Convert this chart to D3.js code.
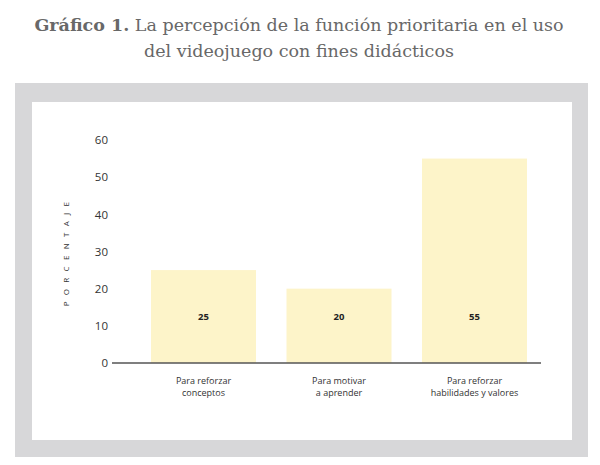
<!DOCTYPE html>
<html>
<head>
<meta charset="utf-8">
<script src="https://d3js.org/d3.v7.min.js"></script>
<style>
  body { margin: 0; background: #fff; }
</style>
</head>
<body>
<script>
var categorias = [["Para reforzar", "conceptos"], ["Para motivar", "a aprender"], ["Para reforzar", "habilidades y valores"]];
var valores = [25, 20, 55];
var ticksY = [0, 10, 20, 30, 40, 50, 60];

var w = 600, h = 465;
var svg = d3.select("body").append("svg").attr("width", w).attr("height", h);

// marco gris
svg.append("rect").attr("x", 15).attr("y", 83).attr("width", 573).attr("height", 374).attr("fill", "#d7d7d9");
svg.append("rect").attr("x", 32).attr("y", 102).attr("width", 540).attr("height", 338).attr("fill", "#fff");

// titulo
var titulo = svg.append("text").attr("text-anchor", "middle").attr("fill", "#686868")
  .style("font-family", "'DejaVu Serif', Georgia, serif").style("font-size", "17.5px");
var l1 = titulo.append("tspan").attr("x", 299).attr("y", 31);
l1.append("tspan").attr("font-weight", "bold").text("Gráfico 1.");
l1.append("tspan").text(" La percepción de la función prioritaria en el uso");
titulo.append("tspan").attr("x", 299).attr("y", 57).text("del videojuego con fines didácticos");

var x = d3.scaleBand().domain(d3.range(valores.length)).range([151, 527]).paddingInner(0.225).paddingOuter(0);
var y = d3.scaleLinear().domain([0, 60]).range([363, 140]);

var g = svg.append("g").style("font-family", "'Open Sans', 'Noto Sans', sans-serif");

g.selectAll("rect.bar").data(valores).enter().append("rect").attr("class", "bar")
  .attr("x", function(d, i){ return x(i); })
  .attr("y", function(d){ return y(d); })
  .attr("width", x.bandwidth())
  .attr("height", function(d){ return y(0) - y(d); })
  .attr("fill", "#fdf4c9");

g.selectAll("text.val").data(valores).enter().append("text").attr("class", "val")
  .attr("x", function(d, i){ return x(i) + x.bandwidth() / 2; })
  .attr("y", y(12.5))
  .attr("dy", "0.35em")
  .attr("text-anchor", "middle").attr("font-weight", "bold").attr("font-size", "9.5px").attr("fill", "#222")
  .text(function(d){ return d; });

// eje y
var yAxis = d3.axisLeft(y).tickValues(ticksY).tickSize(0).tickPadding(4);
var ya = g.append("g").attr("transform", "translate(112,0)").call(yAxis);
ya.select(".domain").remove();
ya.selectAll("text").attr("font-size", "11.5px").attr("fill", "#333").style("font-family", "'Open Sans', sans-serif");

// linea base
g.append("line").attr("x1", 112).attr("x2", 541).attr("y1", y(0)).attr("y2", y(0)).attr("stroke", "#555").attr("stroke-width", 1.3);

// etiquetas categoria
categorias.forEach(function(c, i){
  var t = g.append("text").attr("text-anchor", "middle").attr("font-size", "9px").attr("fill", "#333");
  c.forEach(function(linea, j){
    t.append("tspan").attr("x", x(i) + x.bandwidth() / 2).attr("y", 384 + j * 11.5).text(linea);
  });
});

// etiqueta eje
g.append("text").attr("transform", "translate(69,251) rotate(-90)").attr("text-anchor", "middle")
  .attr("font-size", "8px").attr("letter-spacing", "6.3px").attr("fill", "#333").text("PORCENTAJE");
</script>
</body>
</html>
